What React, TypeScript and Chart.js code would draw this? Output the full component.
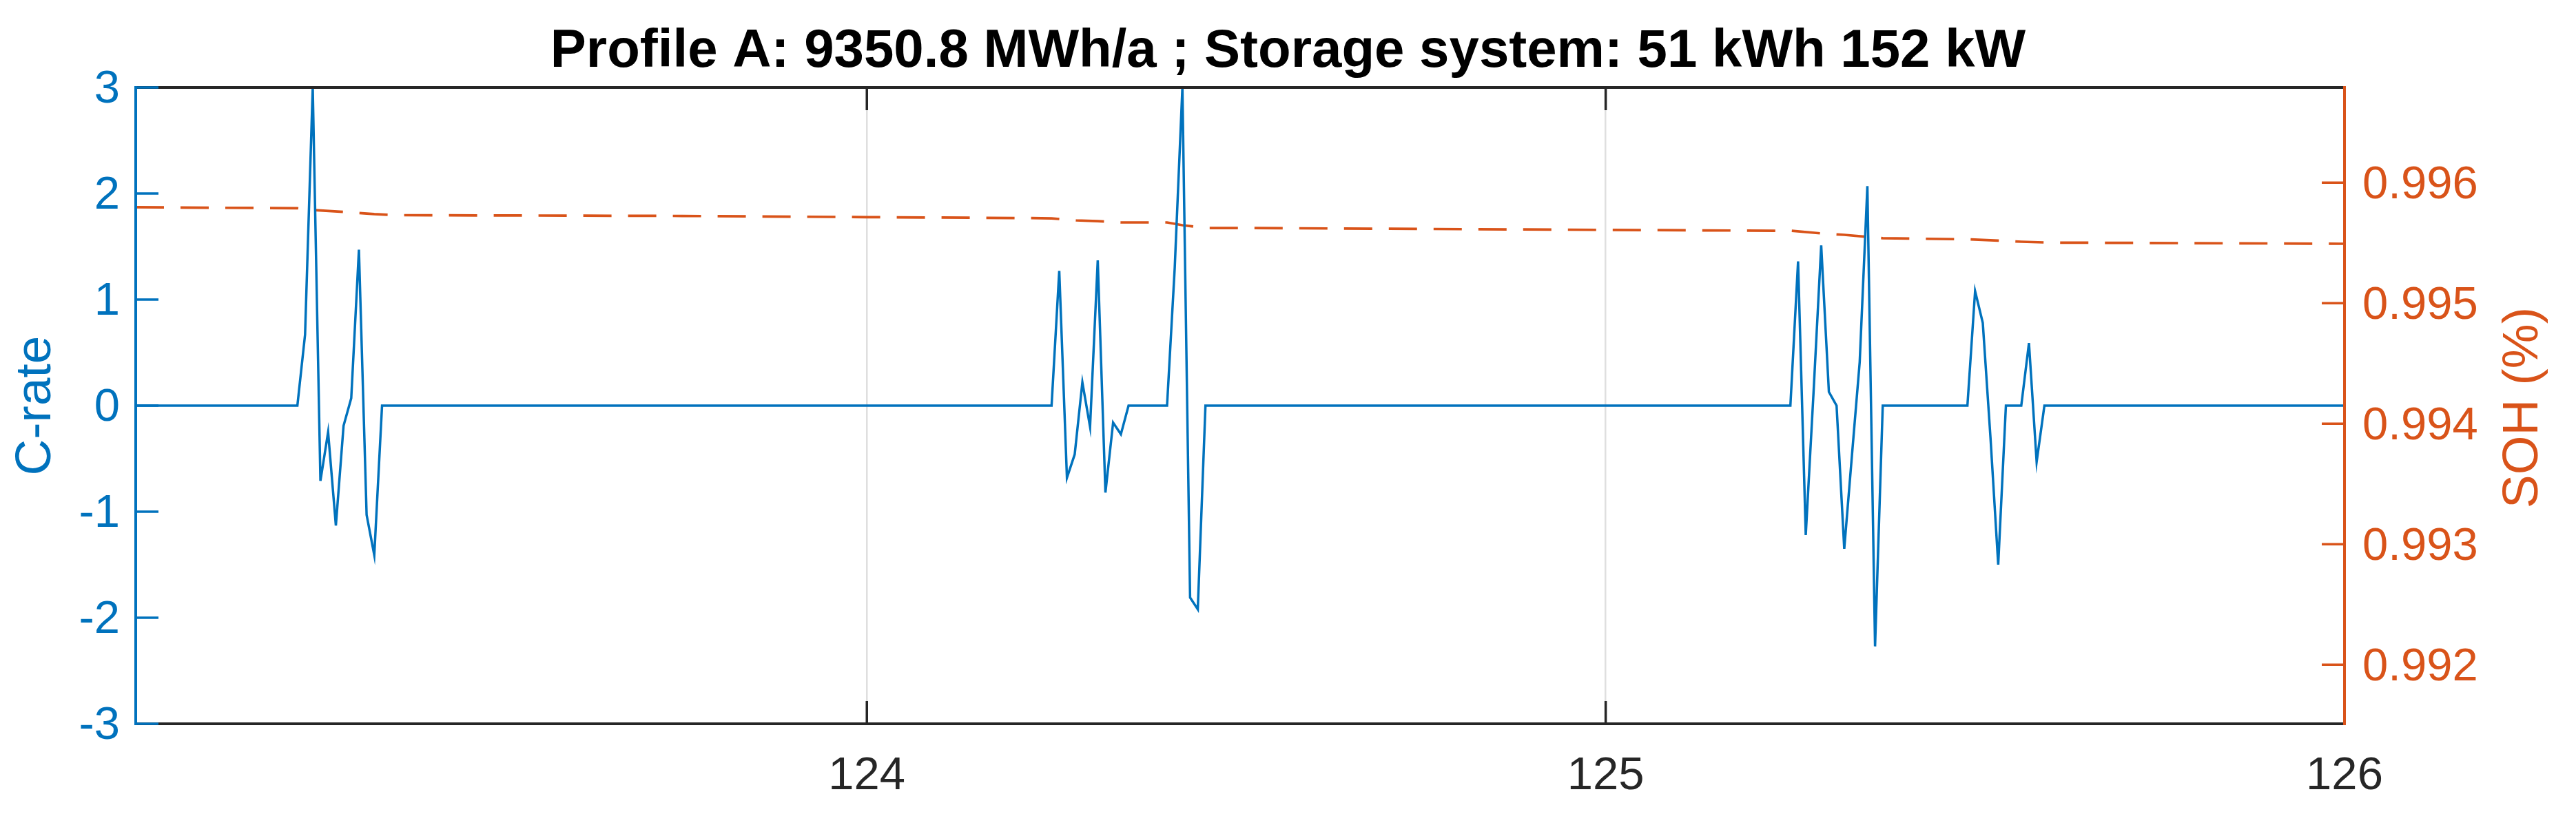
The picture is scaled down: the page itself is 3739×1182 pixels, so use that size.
import React, { useEffect, useRef } from 'react';
import { Chart, registerables } from 'chart.js';

Chart.register(...registerables);

const TITLE = 'Profile A: 9350.8 MWh/a ; Storage system: 51 kWh 152 kW';
const LEFT_LABEL = 'C-rate';
const RIGHT_LABEL = 'SOH (%)';

const X_MIN = 123.0104;
const X_MAX = 126;
const X_TICKS = [124, 125, 126];
const C_TICKS = [-3, -2, -1, 0, 1, 2, 3];
const SOH_TICKS = [0.992, 0.993, 0.994, 0.995, 0.996];
const SOH_MIN = 0.99151;
const SOH_MAX = 0.99679;

// C-rate breakpoints (time in days, 15-min samples)
const cTime = [
  123.0104, 123.2292, 123.2396, 123.25, 123.2604, 123.2708, 123.2813, 123.2917, 123.3021, 123.3125,
  123.3229, 123.3333, 123.3438,
  124.25, 124.2604, 124.2708, 124.2813, 124.2917, 124.3021, 124.3125, 124.3229, 124.3333, 124.3438,
  124.3542, 124.4063, 124.4167, 124.4271, 124.4375, 124.4479, 124.4583,
  125.25, 125.2604, 125.2708, 125.2813, 125.2917, 125.3021, 125.3125, 125.3229, 125.3333, 125.3438,
  125.3542, 125.3646, 125.375,
  125.4896, 125.5, 125.5104, 125.5208, 125.5313, 125.5417, 125.5625, 125.5729, 125.5833, 125.5938,
  126.0,
];
const cRate = [
  0, 0, 0.67, 3.0, -0.71, -0.25, -1.13, -0.19, 0.07, 1.47,
  -1.03, -1.41, 0,
  0, 1.27, -0.68, -0.46, 0.22, -0.2, 1.37, -0.82, -0.16, -0.27,
  0, 0, 1.3, 3.0, -1.81, -1.92, 0,
  0, 1.36, -1.22, 0.12, 1.51, 0.13, 0.0, -1.35, -0.47, 0.41,
  2.07, -2.27, 0,
  0, 1.08, 0.78, -0.3, -1.5, 0, 0, 0.59, -0.53, 0,
  0,
];

// SOH breakpoints
const sohTime = [
  123.0104, 123.2292, 123.25, 123.2917, 123.3333, 123.3646, 123.75, 124.0,
  124.2218, 124.25, 124.2833, 124.3125, 124.3438, 124.4063, 124.4271, 124.4583, 124.5,
  125.23, 125.2516, 125.2917, 125.3229, 125.3542, 125.375, 125.4896, 125.5313, 125.5625, 125.6, 126.0,
];
const sohValue = [
  0.995796, 0.995788, 0.995773, 0.995757, 0.995739, 0.99573, 0.995724, 0.995714,
  0.995706, 0.995704, 0.995687, 0.995681, 0.99567, 0.99567, 0.995647, 0.995624, 0.995624,
  0.995601, 0.995601, 0.995579, 0.995567, 0.99555, 0.995539, 0.99553, 0.995519, 0.99551, 0.995503, 0.995493,
];

const BLUE = '#0072BD';
const ORANGE = '#D95319';
const DARK = '#262626';
const FONT = "'Liberation Sans', Arial, Helvetica, sans-serif";
const W = 3739;
const H = 1182;

const matlabAxes = {
  id: 'matlabAxes',
  afterDraw(chart: any) {
    const { ctx, chartArea: a, scales } = chart;
    const TL = 33;
    const line = (x1: number, y1: number, x2: number, y2: number) => {
      ctx.beginPath();
      ctx.moveTo(x1, y1);
      ctx.lineTo(x2, y2);
      ctx.stroke();
    };
    ctx.save();
    ctx.lineCap = 'butt';
    // x ticks (bottom & top, inward)
    ctx.strokeStyle = DARK;
    ctx.lineWidth = 3.5;
    for (const v of X_TICKS) {
      const px = scales.x.getPixelForValue(v);
      line(px, a.bottom, px, a.bottom - TL);
      line(px, a.top, px, a.top + TL);
    }
    ctx.lineWidth = 4;
    line(a.left - 2, a.top, a.right + 2, a.top);
    line(a.left - 2, a.bottom, a.right + 2, a.bottom);
    // left axis
    ctx.strokeStyle = BLUE;
    ctx.lineWidth = 4;
    line(a.left, a.top - 2, a.left, a.bottom + 2);
    ctx.lineWidth = 3.5;
    for (const v of C_TICKS) {
      const py = scales.y.getPixelForValue(v);
      line(a.left, py, a.left + TL, py);
    }
    // right axis
    ctx.strokeStyle = ORANGE;
    ctx.lineWidth = 4;
    line(a.right, a.top - 2, a.right, a.bottom + 2);
    ctx.lineWidth = 3.5;
    for (const v of SOH_TICKS) {
      const py = scales.y2.getPixelForValue(v);
      line(a.right, py, a.right - TL, py);
    }
    // right axis label (reads bottom to top)
    ctx.fillStyle = ORANGE;
    ctx.font = `73px ${FONT}`;
    ctx.translate(3663, (a.top + a.bottom) / 2 + 3);
    ctx.rotate(-Math.PI / 2);
    ctx.textAlign = 'center';
    ctx.textBaseline = 'middle';
    ctx.fillText(RIGHT_LABEL, 0, 0);
    ctx.restore();
  },
};

export default function App() {
  const ref = useRef<HTMLCanvasElement | null>(null);

  useEffect(() => {
    document.body.style.margin = '0';
    document.body.style.overflow = 'hidden';
    const canvas = ref.current;
    if (!canvas) return;
    const chart = new Chart(canvas, {
      type: 'line',
      data: {
        datasets: [
          {
            label: 'C-rate',
            data: cTime.map((t, i) => ({ x: t, y: cRate[i] })),
            yAxisID: 'y',
            borderColor: BLUE,
            borderWidth: 3.5,
            pointRadius: 0,
            tension: 0,
            fill: false,
          },
          {
            label: 'SOH',
            data: sohTime.map((t, i) => ({ x: t, y: sohValue[i] })),
            yAxisID: 'y2',
            borderColor: ORANGE,
            borderWidth: 3.7,
            borderDash: [41, 24],
            pointRadius: 0,
            tension: 0,
            fill: false,
          },
        ],
      },
      options: {
        responsive: false,
        animation: false,
        devicePixelRatio: 1,
        events: [],
        layout: { padding: 0 },
        plugins: {
          legend: { display: false },
          tooltip: { enabled: false },
          title: {
            display: true,
            text: TITLE,
            color: '#000000',
            font: { family: FONT, size: 78, weight: 'bold', lineHeight: 1.2 },
            padding: { top: 28.4, bottom: 5 },
          },
        },
        scales: {
          x: {
            type: 'linear',
            position: 'bottom',
            min: X_MIN,
            max: X_MAX,
            afterBuildTicks: (s: any) => {
              s.ticks = X_TICKS.map((v) => ({ value: v }));
            },
            afterFit: (s: any) => {
              s.height = 131;
            },
            ticks: {
              color: DARK,
              font: { family: FONT, size: 67 },
              padding: 36,
              maxRotation: 0,
              autoSkip: false,
              callback: (v: any) => String(v),
            },
            grid: {
              display: true,
              drawTicks: false,
              tickLength: 0,
              color: '#dfdfdf',
              lineWidth: 2.5,
            },
            border: { display: false },
          },
          y: {
            type: 'linear',
            position: 'left',
            min: -3,
            max: 3,
            afterBuildTicks: (s: any) => {
              s.ticks = C_TICKS.map((v) => ({ value: v }));
            },
            afterFit: (s: any) => {
              s.width = 197;
            },
            ticks: {
              color: BLUE,
              font: { family: FONT, size: 67 },
              padding: 23,
              labelOffset: 4,
              callback: (v: any) => String(v),
            },
            grid: { display: false, drawTicks: false, tickLength: 0 },
            border: { display: false },
            title: {
              display: true,
              text: LEFT_LABEL,
              color: BLUE,
              font: { family: FONT, size: 73, lineHeight: 1.2 },
              padding: { top: 9, bottom: 0 },
            },
          },
          y2: {
            type: 'linear',
            position: 'right',
            min: SOH_MIN,
            max: SOH_MAX,
            afterBuildTicks: (s: any) => {
              s.ticks = SOH_TICKS.map((v) => ({ value: v }));
            },
            afterFit: (s: any) => {
              s.width = 336;
            },
            ticks: {
              color: ORANGE,
              font: { family: FONT, size: 67 },
              padding: 26,
              labelOffset: 4,
              callback: (v: any) => Number(v).toFixed(3),
            },
            grid: { display: false, drawTicks: false, tickLength: 0 },
            border: { display: false },
          },
        },
      },
      plugins: [matlabAxes],
    } as any);
    return () => chart.destroy();
  }, []);

  return (
    <div style={{ position: 'fixed', left: 0, top: 0, width: W, height: H, background: '#ffffff' }}>
      <canvas ref={ref} width={W} height={H} style={{ width: W, height: H, display: 'block' }} />
    </div>
  );
}
